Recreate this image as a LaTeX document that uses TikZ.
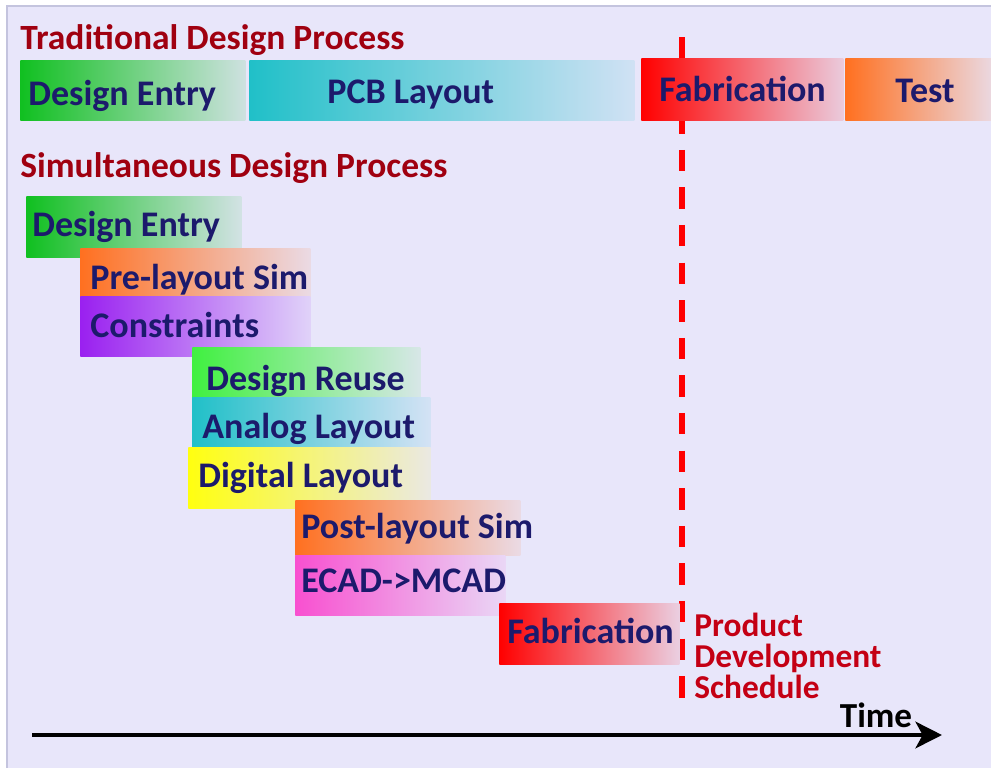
\documentclass[tikz,border=0pt]{standalone}
\usepackage{fontspec}
\setmainfont{Carlito}
\usetikzlibrary{arrows.meta}
\definecolor{bgc}{HTML}{E8E6FA}
\definecolor{rim}{HTML}{C4C4DE}
\definecolor{navy}{HTML}{1C1A6C}
\definecolor{ttlred}{HTML}{A00010}
\definecolor{schred}{HTML}{C40014}
\definecolor{cGreen}{HTML}{10C020}
\definecolor{cTeal}{HTML}{20C0C8}
\definecolor{cRed}{HTML}{FF0000}
\definecolor{cOrange}{HTML}{FF7020}
\definecolor{cPurple}{HTML}{9A20F0}
\definecolor{cLime}{HTML}{40F040}
\definecolor{cYellow}{HTML}{FFFF10}
\definecolor{cPink}{HTML}{F850D0}
\tikzset{
	bar/.style={anchor=north west, inner sep=0pt},
	lbl/.style={anchor=base west, inner sep=0pt, text=navy, font=\fontsize{20.5}{24}\selectfont\bfseries},
	ttl/.style={anchor=base west, inner sep=0pt, text=ttlred, font=\fontsize{20.2}{24}\selectfont\bfseries}
}

\begin{document}
\begin{tikzpicture}[x=0.02cm, y=-0.02cm]
	\useasboundingbox (0,0) rectangle (991,768);
	% ====== Frame ========
	\fill[white] (0,0) rectangle (991,768);
	\fill[bgc] (7,6) rectangle (991,768);
	\draw[rim, line width=0.6pt] (7,768) -- (7,6) -- (991,6);
	% ====== Schedule line ========
	\coordinate (S1) at (682,37);
	\coordinate (S2) at (682,698);
	\draw[cRed, line width=3.4pt, dash pattern=on 12.2pt off 9.2pt] (S1) -- (S2);
	% ====== Traditional ========
	\node[ttl] (trad) at (20,49) {Traditional Design Process};
	\foreach \n/\x/\y/\w/\h/\o/\b/\c/\t in {
		tde/20/60/225/60/8/105/cGreen/Design Entry,
		tpcb/249/60/385/60/78/103/cTeal/PCB Layout,
		tfab/641/58/202/62/18/101/cRed/Fabrication,
		ttest/845/58/146/62/50/102/cOrange/Test}
	{
		\node[bar, minimum width=\w*0.02cm, minimum height=\h*0.02cm, left color=\c, right color=\c!12!bgc] (\n) at (\x,\y) {};
		\node[lbl] (\n-t) at ([shift={(\o,0)}]\n.west |- 0,\b) {\t};
	}
	% ====== Simultaneous ========
	\node[ttl] (simul) at (20,177) {Simultaneous Design Process};
	\foreach \n/\x/\y/\w/\h/\o/\b/\c/\t in {
		sde/26/196/215/61/6/236/cGreen/Design Entry,
		spre/80/248/230/52/10/289/cOrange/Pre-layout Sim,
		scon/80/296/230/60/10/337/cPurple/Constraints,
		sreuse/192/347/228/51/14/390/cLime/Design Reuse,
		sana/192/397/238/50/10/438/cTeal/Analog Layout,
		sdig/188/447/242/61/10/487/cYellow/Digital Layout,
		spost/295/500/225/55/6/538/cOrange/Post-layout Sim,
		secad/295/555/210/60/6/592/cPink/ECAD->MCAD,
		sfab/499/603/180/61/8/643/cRed/Fabrication}
	{
		\node[bar, minimum width=\w*0.02cm, minimum height=\h*0.02cm, left color=\c, right color=\c!10!bgc] (\n) at (\x,\y) {};
		\node[lbl] (\n-t) at ([shift={(\o,0)}]\n.west |- 0,\b) {\t};
	}
	% ====== Time axis ========
	\node[anchor=base west, inner sep=0pt, align=left, text=schred, font=\fontsize{19}{17.5}\selectfont\bfseries] (sched) at (694,698) {Product\\Development\\Schedule};
	\node[anchor=base, inner sep=0pt, font=\fontsize{20}{24}\selectfont\bfseries] (time) at (876,727) {Time};
	\coordinate (T1) at (32,735);
	\coordinate (T2) at (942,735);
	\draw[line width=2.8pt, -{Stealth[length=15pt, width=15pt, inset=4pt]}] (T1) -- (T2);
\end{tikzpicture}
\end{document}
